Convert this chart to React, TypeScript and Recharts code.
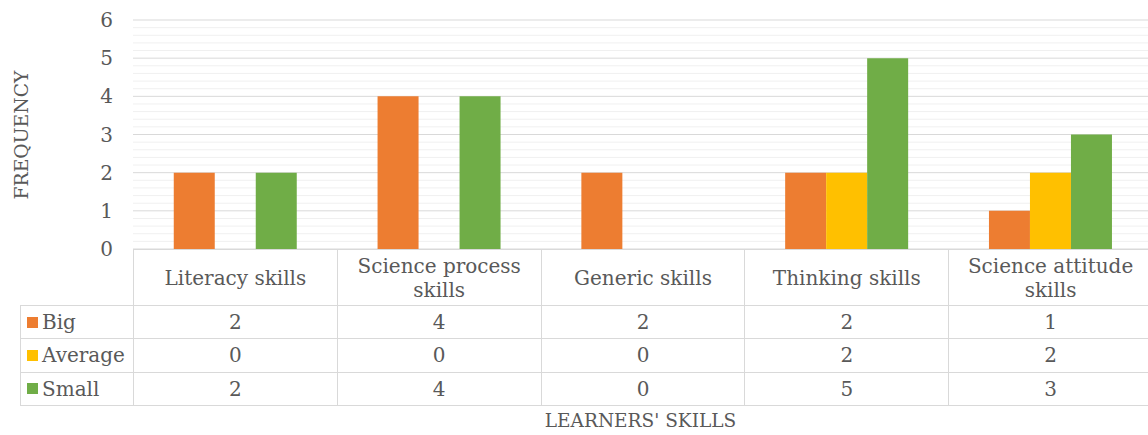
import { BarChart, Bar, XAxis, YAxis, CartesianGrid } from "recharts";

const skills = [
  "Literacy skills",
  "Science process skills",
  "Generic skills",
  "Thinking skills",
  "Science attitude skills",
];
const big = [2, 4, 2, 2, 1];
const average = [0, 0, 0, 2, 2];
const small = [2, 4, 0, 5, 3];
const yTicks = [0, 1, 2, 3, 4, 5, 6];
const Y_MAX = 6;

const series = [
  { key: "big", name: "Big", color: "#ed7d31", values: big },
  { key: "average", name: "Average", color: "#ffc000", values: average },
  { key: "small", name: "Small", color: "#70ad47", values: small },
];

// minor grid every 0.2 between the integer ticks
const minorTicks = yTicks.slice(0, -1).flatMap((t) => [0.2, 0.4, 0.6, 0.8].map((f) => +(t + f).toFixed(1)));

const data = skills.map((name, i) => ({
  name,
  big: big[i],
  average: average[i],
  small: small[i],
}));

const FONT = "'DejaVu Serif', serif";
const TEXT = "#595959";
const GRID = "#d9d9d9";
const PLOT_LEFT = 133;
const COL_W = 203.8;
const HEAD_TOP = 249;
const HEAD_H = 56;
const ROW_H = 33.3;
const LEG_LEFT = 20;

const cell = (left: number, top: number, width: number, height: number): React.CSSProperties => ({
  position: "absolute",
  left,
  top,
  width: width + 1,
  height: height + 1,
  boxSizing: "border-box",
  border: `1px solid ${GRID}`,
  display: "flex",
  alignItems: "center",
  justifyContent: "center",
  textAlign: "center",
});

const minorLines = (props: any) => {
  const off = props?.offset;
  if (!off) return [];
  return minorTicks.map((v) => off.top + off.height * (1 - v / Y_MAX));
};

export default function App() {
  return (
    <div
      style={{
        position: "absolute",
        left: 0,
        top: 0,
        width: 1148,
        height: 435,
        overflow: "hidden",
        background: "#fff",
        fontFamily: FONT,
        fontSize: 20,
        color: TEXT,
      }}
    >
      <BarChart
        width={1152}
        height={262}
        data={data}
        margin={{ top: 20, right: 0, bottom: 13, left: 0 }}
        barCategoryGap="20%"
        barGap={0}
      >
        <CartesianGrid vertical={false} stroke="#f0f0f0" horizontalCoordinatesGenerator={minorLines} />
        <CartesianGrid vertical={false} stroke={GRID} />
        <XAxis dataKey="name" hide height={0} />
        <YAxis
          width={PLOT_LEFT}
          domain={[0, Y_MAX]}
          ticks={yTicks}
          tickLine={false}
          axisLine={false}
          tickSize={0}
          tickMargin={20}
          tick={{ fill: TEXT, fontSize: 20, fontFamily: FONT }}
        />
        {series.map((s) => (
          <Bar key={s.key} dataKey={s.key} name={s.name} fill={s.color} isAnimationActive={false} />
        ))}
      </BarChart>

      <div
        style={{
          position: "absolute",
          left: 21,
          top: 135,
          transform: "translate(-50%, -50%) rotate(-90deg)",
          whiteSpace: "nowrap",
          fontSize: 18.8,
        }}
      >
        FREQUENCY
      </div>

      {skills.map((name, i) => (
        <div key={name} style={{ ...cell(PLOT_LEFT + i * COL_W, HEAD_TOP, COL_W, HEAD_H), padding: "0 12px", lineHeight: "24px", background: "#fff" }}>
          {name}
        </div>
      ))}

      {series.map((s, r) => (
        <div key={s.key}>
          <div style={{ ...cell(LEG_LEFT, HEAD_TOP + HEAD_H + r * ROW_H, PLOT_LEFT - LEG_LEFT, ROW_H), justifyContent: "flex-start", paddingLeft: 6 }}>
            <span style={{ display: "inline-block", width: 11, height: 11, background: s.color, marginRight: 4 }} />
            {s.name}
          </div>
          {s.values.map((v, i) => (
            <div key={i} style={cell(PLOT_LEFT + i * COL_W, HEAD_TOP + HEAD_H + r * ROW_H, COL_W, ROW_H)}>
              {v}
            </div>
          ))}
        </div>
      ))}

      <div
        style={{
          position: "absolute",
          left: PLOT_LEFT,
          width: 1148 - PLOT_LEFT,
          top: 410,
          textAlign: "center",
          fontSize: 18.5,
        }}
      >
        LEARNERS' SKILLS
      </div>
    </div>
  );
}
